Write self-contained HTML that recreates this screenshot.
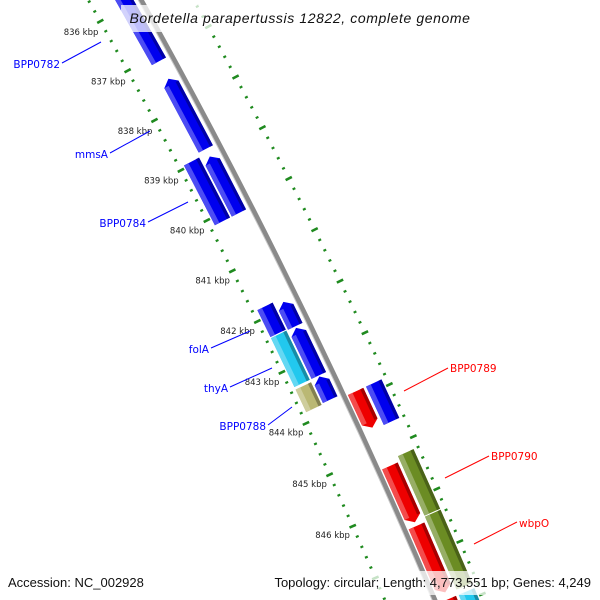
<!DOCTYPE html>
<html><head><meta charset="utf-8"><style>
html,body{margin:0;padding:0;background:#fff;width:600px;height:600px;overflow:hidden;}
svg{display:block;overflow:hidden;}
</style></head><body>
<svg id="map" width="600" height="600" viewBox="0 0 600 600" xmlns="http://www.w3.org/2000/svg">
<rect x="0" y="0" width="600" height="600" fill="#fff"/>
<g id="ticks"></g>
<g id="backbone"></g>
<g id="genes"></g>
<g id="labels"></g>
<rect x="121" y="5" width="358" height="27" fill="#fff" fill-opacity="0.75"/>
<text x="300" y="23" text-anchor="middle" font-family="Liberation Sans, sans-serif" font-style="italic" font-size="14" letter-spacing="0.6" fill="#111">Bordetella parapertussis 12822, complete genome</text>
<rect x="256" y="571" width="340" height="24" fill="#fff" fill-opacity="0.75"/>
<text x="8" y="587" font-family="Liberation Sans, sans-serif" font-size="13" fill="#111">Accession: NC_002928</text>
<text x="591" y="587" text-anchor="end" font-family="Liberation Sans, sans-serif" font-size="13" fill="#111">Topology: circular; Length: 4,773,551 bp; Genes: 4,249</text>
</svg>
<script>
const NS="http://www.w3.org/2000/svg";
const CX=-5238, CY=3006;
// data
const majorTicks=[836,837,838,839,840,841,842,843,844,845,846];
const tickLabels=["836 kbp","837 kbp","838 kbp","839 kbp","840 kbp","841 kbp","842 kbp","843 kbp","844 kbp","845 kbp","846 kbp"];
const geneStarts=[834.0,837.47,839.02,838.95,841.89,841.82,842.40,842.37,843.35,843.38,843.86,843.86,845.30,846.45,847.85,845.20,846.36,847.85];
const geneEnds  =[837.12,838.87,840.14,840.14,842.37,842.35,843.33,843.33,843.80,843.82,844.56,844.60,846.38,847.72,849.5,846.34,847.75,849.5];
const geneTracks=["L1","L1","L1","L2","L1","L2","L1","L2","L1","L2","R1","R2","R1","R1","R1","R2","R2","R2"];
const geneStrand=[-1,-1,-1,0,-1,0,-1,0,-1,0,1,0,1,1,1,0,0,0];
const geneColors=["#0000ee","#0000ee","#0000ee","#0000ee","#0000ee","#0000ee","#0000ee","#22c8ee","#0000ee","#bab874","#ee0000","#0000ee","#ee0000","#ee0000","#ee0000","#6b8c23","#6b8c23","#22c8ee"];
const geneNames=["BPP0782","mmsA","BPP0784b","BPP0784","gene-842a","gene-842b","gene-843a","folA","gene-843b","BPP0788","BPP0789","gene-844","BPP0790","wbpO","gene-848a","olive-845","olive-846","cyan-848"];
const trackR={L2:[6121,6138],L1:[6140,6156],R1:[6166,6183],R2:[6186,6203]};

function ang(k){return (-29.21+(k-836)*0.529)*Math.PI/180;}
function pt(r,k){const a=ang(k);return [CX+r*Math.cos(a),CY+r*Math.sin(a)];}
function mk(tag,attrs,parent){const e=document.createElementNS(NS,tag);for(const k in attrs)e.setAttribute(k,attrs[k]);parent.appendChild(e);return e;}

// tick rings
const tg=document.getElementById('ticks');
[6116,6208].forEach((R,ri)=>{
  for(let i=0;i<=90;i++){
    const k=834+i*0.2;
    const major=Math.abs(k-Math.round(k))<0.01;
    const h=major?3.5:1.5;
    const p1=pt(R-h,k),p2=pt(R+h,k);
    const l=mk('line',{x1:p1[0],y1:p1[1],x2:p2[0],y2:p2[1],stroke:'#1f8a1f','stroke-width':major?2.6:2.2},tg);
    
    
  }
});
majorTicks.forEach((k,i)=>{
  const p=pt(6094,k);
  const t=mk('text',{x:p[0],y:p[1]+3,'text-anchor':'middle','font-family':'DejaVu Sans, sans-serif','font-size':'8.5',fill:'#222'},tg);
  t.textContent=tickLabels[i];
  
  
});

// backbone
const bg=document.getElementById('backbone');
function arcPath(R,k1,k2){const a=pt(R,k1),b=pt(R,k2);return `M${a[0]},${a[1]} A${R},${R} 0 0 1 ${b[0]},${b[1]}`;}
const b1=mk('path',{d:arcPath(6162,830,850),stroke:'#8a8a8a','stroke-width':5,fill:'none'},bg);


const b2=mk('path',{d:arcPath(6159.5,830,850),stroke:'#c8c8c8','stroke-width':1,fill:'none'},bg);



// genes
const gg=document.getElementById('genes');
function shade(hex,f){const n=parseInt(hex.slice(1),16);let r=n>>16,g=(n>>8)&255,b=n&255;
  if(f>0){r+=(255-r)*f;g+=(255-g)*f;b+=(255-b)*f;}else{r*=1+f;g*=1+f;b*=1+f;}
  return `rgb(${r|0},${g|0},${b|0})`;}
const AH=0.11;
function genePoly(r1,r2,s,e,strand){
  const rm=(r1+r2)/2;const pts=[];
  if(strand===1){pts.push(pt(r1,s),pt(r1,e-AH),pt(rm,e),pt(r2,e-AH),pt(r2,s));}
  else if(strand===-1){pts.push(pt(rm,s),pt(r1,s+AH),pt(r1,e),pt(r2,e),pt(r2,s+AH));}
  else{pts.push(pt(r1,s),pt(r1,e),pt(r2,e),pt(r2,s));}
  return pts.map(p=>p.join(',')).join(' ');
}
geneStarts.forEach((s,i)=>{
  const e=geneEnds[i];const [r1,r2]=trackR[geneTracks[i]];const c=geneColors[i];const st=geneStrand[i];
  const g=mk('g',{},gg);
  
  
  mk('polygon',{points:genePoly(r1,r2,s,e,st),fill:c},g);
  const w=(r2-r1);
  const ss=st===-1?s+AH:s, ee=st===1?e-AH:e;
  mk('polygon',{points:genePoly(r1,r1+w*0.3,ss,ee,0),fill:shade(c,0.3)},g);
  mk('polygon',{points:genePoly(r2-w*0.2,r2,ss,ee,0),fill:shade(c,-0.3)},g);
});

// labels
const lbNames=["BPP0782","mmsA","BPP0784","folA","thyA","BPP0788","BPP0789","BPP0790","wbpO"];
const lbColors=["#0000ff","#0000ff","#0000ff","#0000ff","#0000ff","#0000ff","#ff0000","#ff0000","#ff0000"];
const lbText=[[60,68,'end'],[108,158,'end'],[146,227,'end'],[209,353,'end'],[228,392,'end'],[266,430,'end'],[450,372,'start'],[491,460,'start'],[519,527,'start']];
const lbLine=[[62,63,101,42],[110,153,150,131],[148,222,188,202],[211,348,250,331],[230,387,272,368],[268,425,292,407],[404,391,448,368],[445,478,489,456],[474,544,517,522]];
const lg=document.getElementById('labels');
lbNames.forEach((n,i)=>{
  const L=lbLine[i];
  const l=mk('line',{x1:L[0],y1:L[1],x2:L[2],y2:L[3],stroke:lbColors[i],'stroke-width':1},lg);
  
  
  const T=lbText[i];
  const t=mk('text',{x:T[0],y:T[1],'text-anchor':T[2],'font-family':'DejaVu Sans, sans-serif','font-size':'10.5',fill:lbColors[i]},lg);
  t.textContent=n;
  
  
});
</script>
</body></html>
